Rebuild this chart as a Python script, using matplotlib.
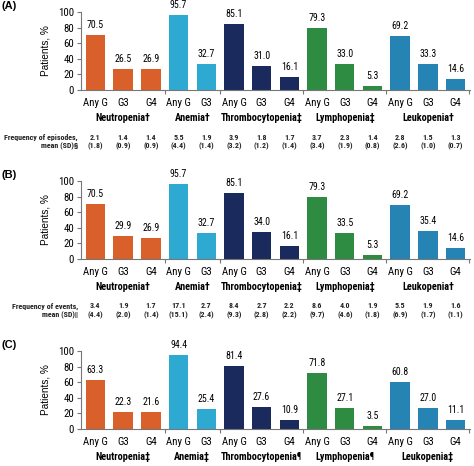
import numpy as np
import matplotlib
matplotlib.use('Agg')
import matplotlib.pyplot as plt
from matplotlib import font_manager
from matplotlib.font_manager import FontProperties
from matplotlib.textpath import TextPath

# look for a narrow / condensed sans, the reference text is squeezed
fonts = font_manager.fontManager.ttflist
family, stretch = 'Liberation Sans', 'normal'
for name in ['Liberation Sans Narrow', 'Roboto Condensed', 'Open Sans Condensed',
             'Noto Sans', 'Open Sans', 'DejaVu Sans']:
    hits = [f for f in fonts if f.name == name]
    if not hits:
        continue
    if 'Narrow' in name or 'Condensed' in name:
        family, stretch = name, 'normal'
        break
    if any(str(f.stretch) in ('condensed', 'semi-condensed', '75', '87') for f in hits):
        family, stretch = name, 'condensed'
        break
plt.rcParams['font.family'] = [family, 'DejaVu Sans']
plt.rcParams['font.stretch'] = stretch


def fit_size(text, px_width, weight='normal', fam=None):
    # font size (pt) so that text is px_width pixels wide at dpi 100
    fp = FontProperties(family=fam or family, weight=weight, stretch=stretch, size=10)
    w = TextPath((0, 0), text, prop=fp).get_extents().width
    return 10 * px_width * 0.72 / w


# data
grades = ['Any G', 'G3', 'G4', 'Any G', 'G3', 'Any G', 'G3', 'G4',
          'Any G', 'G3', 'G4', 'Any G', 'G3', 'G4']
group_of_bar = [0, 0, 0, 1, 1, 2, 2, 2, 3, 3, 3, 4, 4, 4]
groups = ['Neutropenia', 'Anemia', 'Thrombocytopenia', 'Lymphopenia', 'Leukopenia']
marks_a = ['†', '†', '‡', '‡', '†']
marks_b = ['†', '†', '‡', '‡', '†']
marks_c = ['‡', '‡', '¶', '¶', '‡']

pct_a = [70.5, 26.5, 26.9, 95.7, 32.7, 85.1, 31.0, 16.1, 79.3, 33.0, 5.3, 69.2, 33.3, 14.6]
pct_b = [70.5, 29.9, 26.9, 95.7, 32.7, 85.1, 34.0, 16.1, 79.3, 33.5, 5.3, 69.2, 35.4, 14.6]
pct_c = [63.3, 22.3, 21.6, 94.4, 25.4, 81.4, 27.6, 10.9, 71.8, 27.1, 3.5, 60.8, 27.0, 11.1]

mean_a = [2.1, 1.4, 1.4, 5.5, 1.9, 3.9, 1.8, 1.7, 3.7, 2.3, 1.4, 2.8, 1.5, 1.3]
sd_a = [1.8, 0.9, 0.9, 4.4, 1.4, 3.2, 1.2, 1.4, 3.4, 1.9, 0.8, 2.6, 1.0, 0.7]
mean_b = [3.4, 1.9, 1.7, 17.1, 2.7, 8.4, 2.7, 2.2, 8.6, 4.0, 1.9, 5.5, 1.9, 1.6]
sd_b = [4.4, 2.0, 1.4, 15.1, 2.4, 9.3, 2.8, 2.2, 9.7, 4.6, 1.8, 6.9, 1.7, 1.1]

colors = ['#d9602a', '#2eaad2', '#1b2a5c', '#2e8c42', '#2584b3']

# sizes calibrated on widths measured in the reference
fs_tick = min(fit_size('Any G', 24), 8)
fs_val = min(fit_size('70.5', 16.5), 8)
fs_grp = min(fit_size('Neutropenia†', 54, 'bold'), 8)
fs_frq = min(fit_size('Frequency of episodes,', 74, 'bold'), 6.5)
fs_num = fs_frq

W, H = 474, 466
fig = plt.figure(figsize=(W / 100, H / 100), dpi=100)


def px(n):
    # pixels -> points at dpi 100
    return n * 0.72


def panel(top, letter, pct, marks, freq=None):
    ax = fig.add_axes([81 / W, (H - top - 78) / H, 389 / W, 78 / H])
    x = np.arange(len(pct))
    cols = [colors[g] for g in group_of_bar]
    ax.bar(x, pct, width=0.7, color=cols, edgecolor='none')
    ax.set_xlim(-0.52, 13.52)
    ax.set_ylim(0, 100)
    ax.set_yticks([0, 20, 40, 60, 80, 100])
    ax.tick_params(axis='y', length=px(4), pad=px(3), labelsize=fs_tick, color='#777777', width=0.8)
    ax.set_xticks([])
    ax.set_xticks([2.5, 4.5, 7.5, 10.5, 13.5], minor=True)
    ax.tick_params(axis='x', which='minor', length=px(4), color='#777777', width=0.8)
    for s in ['top', 'right']:
        ax.spines[s].set_visible(False)
    for s in ['left', 'bottom']:
        ax.spines[s].set_color('#777777')
        ax.spines[s].set_linewidth(0.8)
    ax.set_ylabel('Patients, %', fontsize=7.2, family='Liberation Sans', labelpad=px(7))

    for xi, v in zip(x, pct):
        ax.annotate(f'{v:.1f}', (xi, v), xytext=(0, px(10)), textcoords='offset points',
                    ha='center', va='center', fontsize=fs_val, clip_on=False)
    for xi, g in zip(x, grades):
        ax.annotate(g, (xi, 0), xycoords=('data', 'axes fraction'), xytext=(0, -px(13)),
                    textcoords='offset points', ha='center', va='center', fontsize=fs_tick)
    for gi, name in enumerate(groups):
        idx = [i for i, g in enumerate(group_of_bar) if g == gi]
        cx = np.mean(idx)
        ax.annotate(name + marks[gi], (cx, 0), xycoords=('data', 'axes fraction'),
                    xytext=(0, -px(28)), textcoords='offset points', ha='center', va='center',
                    fontsize=fs_grp, fontweight='bold')
    if freq is not None:
        label, sym, means, sds = freq
        for xi, m, s in zip(x, means, sds):
            ax.annotate(f'{m:.1f}', (xi, 0), xycoords=('data', 'axes fraction'),
                        xytext=(0, -px(47)), textcoords='offset points', ha='center',
                        va='center', fontsize=fs_num, fontweight='bold', color='#222222')
            ax.annotate(f'({s:.1f})', (xi, 0), xycoords=('data', 'axes fraction'),
                        xytext=(0, -px(56)), textcoords='offset points', ha='center',
                        va='center', fontsize=fs_num, fontweight='bold', color='#222222')
        fig.text(78 / W, 1 - (top + 78 + 47) / H, label, ha='right', va='center',
                 fontsize=fs_frq, fontweight='bold', color='#222222')
        fig.text(78 / W, 1 - (top + 78 + 56) / H, 'mean (SD)' + sym, ha='right', va='center',
                 fontsize=fs_frq, fontweight='bold', color='#222222')
    fig.text(1 / W, 1 - (top - 6) / H, letter, ha='left', va='center', fontsize=8,
             fontweight='bold', family='Liberation Sans')
    return ax


panel(12, '(A)', pct_a, marks_a, ('Frequency of episodes,', '§', mean_a, sd_a))
panel(181, '(B)', pct_b, marks_b, ('Frequency of events,', '‖', mean_b, sd_b))
panel(351, '(C)', pct_c, marks_c)

fig.savefig('out.png', dpi=100)
